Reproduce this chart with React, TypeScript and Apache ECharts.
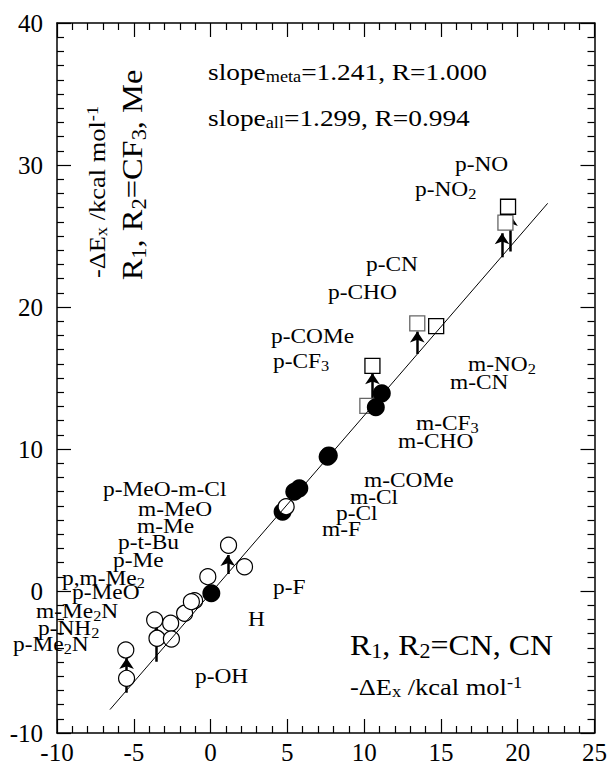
import React, { useEffect, useRef } from "react";
import * as echarts from "echarts";

// ---- data ----
const openCircleX = [-5.52, -5.47, -3.64, -3.49, -2.6, -2.55, -1.69, -1.04, -1.25, -0.18, 1.17, 2.21, 4.92];
const openCircleY = [-4.15, -6.15, -2.04, -3.33, -2.27, -3.38, -1.57, -0.68, -0.75, 1.01, 3.22, 1.71, 5.94];

const filledCircleX = [0.05, 4.69, 5.45, 5.78, 7.62, 7.7, 10.76, 11.15];
const filledCircleY = [-0.16, 5.58, 6.99, 7.23, 9.45, 9.55, 12.94, 13.92];

const greySquareX = [10.21, 13.46, 19.2];
const greySquareY = [13.03, 18.85, 25.94];
const blackSquareX = [10.54, 14.69, 19.37];
const blackSquareY = [15.85, 18.66, 27.06];

const arrowX = [-5.47, -3.53, 1.12, 10.54, 13.46, 18.98, 19.53];
const arrowFromY = [-7.16, -4.98, 1.2, 13.33, 16.69, 23.5, 23.9];
const arrowToY = [-4.72, -2.51, 2.54, 15.33, 18.27, 25.19, 26.48];

const fitLineX = [-6.55, 21.95];
const fitLineY = [-8.35, 27.3];

const xTickValues = [-10, -5, 0, 5, 10, 15, 20, 25];
const yTickValues = [-10, 0, 10, 20, 30, 40];

const substituentLabels = [
  "p-NO", "p-NO{s|2}", "p-CN", "p-CHO", "p-COMe", "p-CF{s|3}",
  "m-NO{s|2}", "m-CN", "m-CF{s|3}", "m-CHO", "m-COMe", "m-Cl", "p-Cl", "m-F",
  "p-F", "H", "p-OH",
  "p-MeO-m-Cl", "m-MeO", "m-Me", "p-t-Bu", "p-Me", "p,m-Me{s|2}", "p-MeO",
  "m-Me{s|2}N", "p-NH{s|2}", "p-Me{s|2}N",
];

// ---- layout (pixel anchors of annotation texts; left edge, vertical middle) ----
const labelAnchors: [number, number][] = [
  [455, 165], [415, 190], [366, 265], [328, 293], [271, 337], [273, 362],
  [468, 365], [450, 383], [416, 424], [398, 442], [364, 481], [350, 498], [336, 514], [322, 530],
  [273, 588], [248, 620], [195, 677],
  [103, 490], [138, 510], [137, 527], [118, 543], [113, 561], [62, 579], [72, 593],
  [36, 612], [38, 629], [13, 645],
];

const FONT = "'Liberation Serif', 'Times New Roman', serif";

function richFor(size: number) {
  return {
    s: { fontSize: Math.round(size * 0.68), fontFamily: FONT, fill: "#000", lineHeight: 8, verticalAlign: "bottom" },
    u: { fontSize: Math.round(size * 0.68), fontFamily: FONT, fill: "#000", lineHeight: 12, verticalAlign: "top" },
  };
}

function txt(text: string, x: number, y: number, size: number, scaleX: number, extra: any = {}) {
  return {
    type: "text",
    x,
    y,
    scaleX,
    z: 100,
    rotation: extra.rotation || 0,
    style: {
      text,
      fontFamily: FONT,
      fontSize: size,
      lineHeight: Math.round(size * 1.1),
      fill: "#000",
      align: extra.align || "left",
      verticalAlign: "middle",
      rich: richFor(size),
    },
  };
}

export default function App() {
  const ref = useRef<HTMLDivElement>(null);

  useEffect(() => {
    document.body.style.margin = "0";
    if (!ref.current) return;
    const chart = echarts.init(ref.current, undefined, { renderer: "svg" });

    const axisCommon = {
      type: "value" as const,
      axisLine: { show: true, onZero: false, lineStyle: { color: "#000", width: 1.5 } },
      axisTick: { show: true, inside: true, length: 14, lineStyle: { color: "#000", width: 1.2 } },
      minorTick: { show: true, length: 7, lineStyle: { color: "#000", width: 1.2 } },
      splitLine: { show: false },
      minorSplitLine: { show: false },
    };
    const labelStyle = { fontSize: 25, fontFamily: FONT, color: "#000" };

    const texts: any[] = substituentLabels.map((t, i) =>
      txt(t, labelAnchors[i][0], labelAnchors[i][1], 20, 1.17)
    );
    texts.push(txt("slope{s|meta}=1.241, R=1.000", 208, 72, 24, 1.14));
    texts.push(txt("slope{s|all}=1.299, R=0.994", 208, 118, 24, 1.14));
    texts.push(txt("R{s|1}, R{s|2}=CN, CN", 350, 645, 29, 1.1));
    texts.push(txt("-ΔE{s|x} /kcal mol{u|-1}", 350, 687, 23, 1.15));
    texts.push(txt("-ΔE{s|x} /kcal mol{u|-1}", 97, 192, 23, 1.15, { rotation: Math.PI / 2, align: "center" }));
    texts.push(txt("R{s|1}, R{s|2}=CF{s|3}, Me", 133, 175, 29, 1.12, { rotation: Math.PI / 2, align: "center" }));

    chart.setOption({
      animation: false,
      backgroundColor: "#fff",
      grid: { left: 57, right: 15, top: 23, bottom: 41, containLabel: false },
      xAxis: [
        {
          ...axisCommon,
          position: "bottom",
          min: xTickValues[0],
          max: xTickValues[xTickValues.length - 1],
          interval: 5,
          minorTick: { ...axisCommon.minorTick, splitNumber: 5 },
          axisLabel: { ...labelStyle, margin: 7 },
        },
        {
          ...axisCommon,
          position: "top",
          min: xTickValues[0],
          max: xTickValues[xTickValues.length - 1],
          interval: 5,
          minorTick: { ...axisCommon.minorTick, splitNumber: 5 },
          axisLabel: { show: false },
        },
      ],
      yAxis: [
        {
          ...axisCommon,
          position: "left",
          min: yTickValues[0],
          max: yTickValues[yTickValues.length - 1],
          interval: 10,
          minorTick: { ...axisCommon.minorTick, splitNumber: 10 },
          axisLabel: { ...labelStyle, margin: 14 },
        },
        {
          ...axisCommon,
          position: "right",
          min: yTickValues[0],
          max: yTickValues[yTickValues.length - 1],
          interval: 10,
          minorTick: { ...axisCommon.minorTick, splitNumber: 10 },
          axisLabel: { show: false },
        },
      ],
      series: [
        {
          type: "line",
          data: fitLineX.map((x, i) => [x, fitLineY[i]]),
          symbol: "none",
          lineStyle: { color: "#000", width: 1 },
          silent: true,
        },
        {
          type: "scatter",
          data: greySquareX.map((x, i) => [x, greySquareY[i]]),
          symbol: "rect",
          symbolSize: 15,
          itemStyle: { color: "#fff", borderColor: "#666", borderWidth: 1.3, opacity: 1 },
        },
        {
          type: "scatter",
          data: blackSquareX.map((x, i) => [x, blackSquareY[i]]),
          symbol: "rect",
          symbolSize: 15,
          itemStyle: { color: "#fff", borderColor: "#000", borderWidth: 1.3, opacity: 1 },
        },
        {
          type: "scatter",
          data: filledCircleX.map((x, i) => [x, filledCircleY[i]]),
          symbol: "circle",
          symbolSize: 18,
          itemStyle: { color: "#000", opacity: 1 },
        },
        {
          type: "scatter",
          data: openCircleX.map((x, i) => [x, openCircleY[i]]),
          symbol: "circle",
          symbolSize: 16,
          itemStyle: { color: "#fff", borderColor: "#000", borderWidth: 1.2, opacity: 1 },
        },
        {
          type: "lines",
          coordinateSystem: "cartesian2d",
          polyline: false,
          symbol: ["none", "arrow"],
          symbolSize: [7, 11],
          lineStyle: { color: "#000", width: 2.5, opacity: 1 },
          data: arrowX.map((x, i) => ({ coords: [[x, arrowFromY[i]], [x, arrowToY[i]]] })),
        },
      ],
      graphic: texts,
    });

    return () => chart.dispose();
  }, []);

  return <div ref={ref} style={{ width: 610, height: 774 }} />;
}
